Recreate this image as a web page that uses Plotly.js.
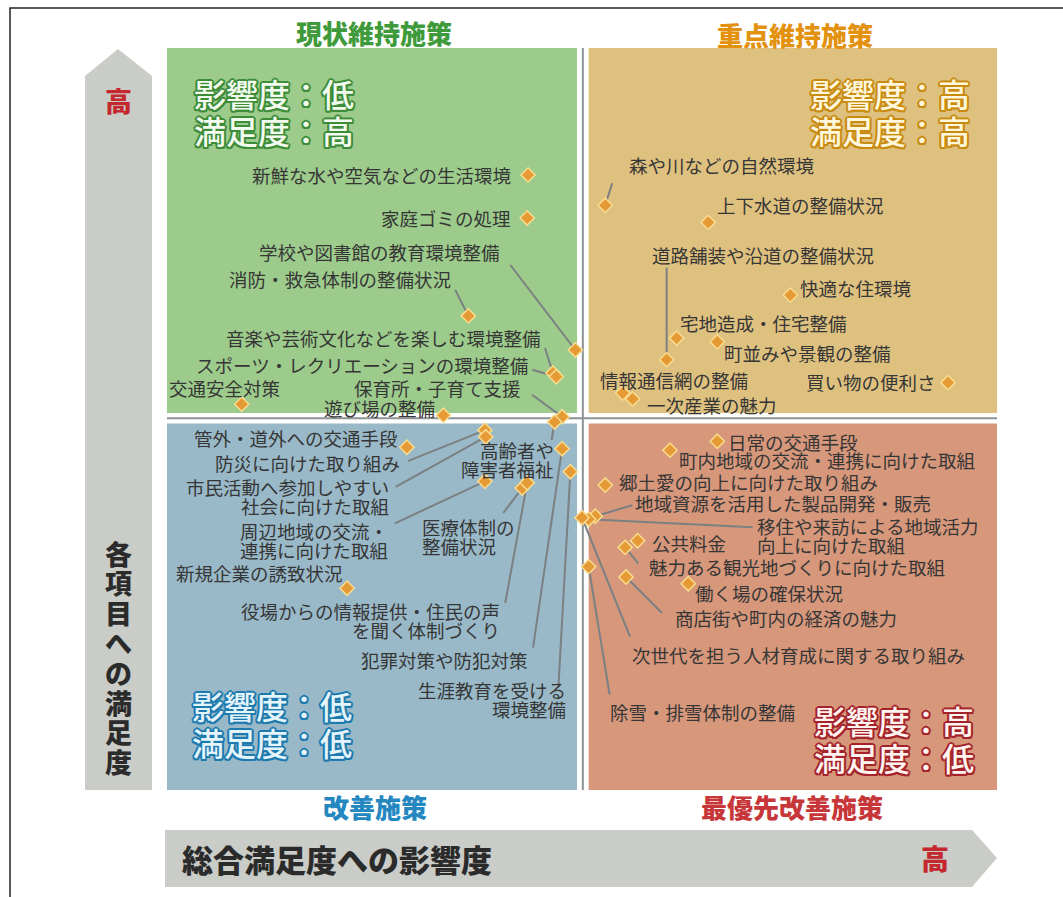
<!DOCTYPE html>
<html>
<head>
<meta charset="utf-8">
<script src="https://cdn.plot.ly/plotly-3.0.1.min.js"></script>
<style>
  body { margin: 0; background: #fff; }
  #myDiv { width: 1063px; height: 897px; }
</style>
</head>
<body>
<div id="myDiv"></div>
<script>
// items (施策項目) with impact on overall satisfaction (x) and satisfaction (y), 0-100 scale
var items = [
  '新鮮な水や空気などの生活環境', '家庭ゴミの処理', '学校や図書館の教育環境整備',
  '消防・救急体制の整備状況', '音楽や芸術文化などを楽しむ環境整備', 'スポーツ・レクリエーションの環境整備',
  '保育所・子育て支援', '交通安全対策', '遊び場の整備',
  '管外・道外への交通手段', '防災に向けた取り組み', '市民活動へ参加しやすい<br>社会に向けた取組',
  '周辺地域の交流・<br>連携に向けた取組', '新規企業の誘致状況', '医療体制の<br>整備状況',
  '役場からの情報提供・住民の声<br>を聞く体制づくり', '犯罪対策や防犯対策', '生涯教育を受ける<br>環境整備',
  '高齢者や<br>障害者福祉',
  '森や川などの自然環境', '上下水道の整備状況', '道路舗装や沿道の整備状況',
  '快適な住環境', '宅地造成・住宅整備', '町並みや景観の整備',
  '情報通信網の整備', '一次産業の魅力', '買い物の便利さ',
  '日常の交通手段', '町内地域の交流・連携に向けた取組', '郷土愛の向上に向けた取り組み',
  '地域資源を活用した製品開発・販売', '移住や来訪による地域活力<br>向上に向けた取組', '次世代を担う人材育成に関する取り組み',
  '公共料金', '魅力ある観光地づくりに向けた取組', '働く場の確保状況',
  '商店街や町内の経済の魅力', '除雪・排雪体制の整備'
];
var impact = [
  43.5, 43.4, 49.2, 36.3, 46.5, 46.9, 47.6, 9.0, 33.3,
  28.9, 38.3, 38.4, 38.3, 21.7, 42.8, 43.4, 47.6, 48.6, 46.7,
  52.8, 65.2, 60.2, 75.1, 61.4, 66.3, 54.9, 56.1, 94.1,
  66.3, 60.6, 52.8, 51.6, 50.8, 50.0, 56.7, 55.2, 62.8, 55.3, 50.8
];
var satisfaction = [
  82.9, 77.1, 59.3, 63.9, 56.2, 55.7, 50.3, 52.0, 50.5,
  46.2, 48.5, 47.6, 41.6, 27.2, 40.7, 41.4, 46.0, 42.9, 49.6,
  78.8, 76.5, 58.0, 66.7, 60.9, 60.4, 53.5, 52.7, 54.9,
  47.0, 45.8, 41.1, 36.9, 36.5, 36.7, 33.6, 32.7, 27.8, 28.7, 30.1
];

var quadrantNames = ['現状維持施策', '重点維持施策', '改善施策', '最優先改善施策'];
var impactLevel = ['低', '高', '低', '高'];
var satisfactionLevel = ['高', '高', '低', '低'];

// label placement (pixel offsets from each point), anchors and leader line ends
var labelDx = [-15, -14, -73, -15, -10, -26, -39, -75, -6,
  -7, -83, -95, -95, -2, -102, -25, -32, -2, 1,
  22, 7, -17, 8, 1, 5, -25, 12, -10,
  9, 7, 12, 38, 166, 48, 12, 22, 5, 47, 19];
var labelDy = [0, 0, -98, -37, -35, -12, -29, -16, -7,
  -9, 33, 60, 59, -15, 48, 138, 211, 228, 38,
  -40, -17, -105, -7, -15, 11, -13, 6, -1,
  1, 10, -3, -13, 16, 137, 2, 20, 9, 41, 145];
var labelAnchor = ['right', 'right', 'right', 'right', 'right', 'right', 'right', 'left', 'right',
  'right', 'right', 'right', 'right', 'right', 'left', 'right', 'right', 'right', 'right',
  'left', 'left', 'left', 'left', 'left', 'left', 'left', 'left', 'right',
  'left', 'left', 'left', 'left', 'left', 'left', 'left', 'left', 'left', 'left', 'left'];
var leaderEnd = [null, null, [-65, -85], [-13, -26], [-8, -25], [-24, -7], [-30, -22], null, null,
  null, [-77, 31], [-90, 50], [-90, 42], null, [-19, 25], [-22, 120], [-29, 199], [-12, 216], [-3, 18],
  [7, -22], null, [0, -92], null, null, null, null, null, null,
  null, null, null, [37, -11], [164, 8], [48, 119], null, [13, 16], null, [36, 36], [21, 128]];

var FONT = '"Noto Sans CJK JP", "Noto Sans", sans-serif';
var midX = 50.1, midY = 50.1, gap = 0.7;

// plot area in pixels: left 167, right 997, top 48, bottom 790
function fx(p) { return (p - 167) / 830; }
function fy(p) { return (790 - p) / 742; }

function outline(c) {
  return ['2px 0', '-2px 0', '0 2px', '0 -2px', '1.5px 1.5px', '-1.5px 1.5px', '1.5px -1.5px', '-1.5px -1.5px']
    .map(function (o) { return o + ' 0 ' + c; }).join(', ');
}

var shapes = [
  // quadrants
  {type: 'rect', xref: 'x', yref: 'y', x0: 0, x1: midX - gap, y0: midY + gap, y1: 100, fillcolor: '#9ccb8b', line: {width: 0}, layer: 'below'},
  {type: 'rect', xref: 'x', yref: 'y', x0: midX + gap, x1: 100, y0: midY + gap, y1: 100, fillcolor: '#dfc17f', line: {width: 0}, layer: 'below'},
  {type: 'rect', xref: 'x', yref: 'y', x0: 0, x1: midX - gap, y0: 0, y1: midY - gap, fillcolor: '#99b9c8', line: {width: 0}, layer: 'below'},
  {type: 'rect', xref: 'x', yref: 'y', x0: midX + gap, x1: 100, y0: 0, y1: midY - gap, fillcolor: '#d6977b', line: {width: 0}, layer: 'below'},
  // cross lines
  {type: 'line', xref: 'x', yref: 'y', x0: midX, x1: midX, y0: 0, y1: 100, line: {color: '#8d9295', width: 2}, layer: 'below'},
  {type: 'line', xref: 'x', yref: 'y', x0: 0, x1: 100, y0: midY, y1: midY, line: {color: '#8d9295', width: 2}, layer: 'below'},
  // axis arrows
  {type: 'path', xref: 'paper', yref: 'paper', layer: 'below', fillcolor: '#c9ccc7', line: {width: 0},
    path: 'M' + fx(85) + ',' + fy(790) + ' L' + fx(85) + ',' + fy(76) + ' L' + fx(118) + ',' + fy(49) +
      ' L' + fx(152) + ',' + fy(76) + ' L' + fx(152) + ',' + fy(790) + ' Z'},
  {type: 'path', xref: 'paper', yref: 'paper', layer: 'below', fillcolor: '#c9ccc7', line: {width: 0},
    path: 'M' + fx(165) + ',' + fy(830) + ' L' + fx(972) + ',' + fy(830) + ' L' + fx(997) + ',' + fy(858) +
      ' L' + fx(972) + ',' + fy(887) + ' L' + fx(165) + ',' + fy(887) + ' Z'},
  // page frame
  {type: 'rect', xref: 'paper', yref: 'paper', x0: fx(10), x1: fx(1080), y0: fy(8), y1: fy(910),
    line: {color: '#222', width: 1.5}, fillcolor: 'rgba(0,0,0,0)', layer: 'below'}
];

// leader lines anchored at each point, pixel offsets
for (var i = 0; i < items.length; i++) {
  if (!leaderEnd[i]) continue;
  shapes.push({
    type: 'line', xref: 'x', yref: 'y', xsizemode: 'pixel', ysizemode: 'pixel',
    xanchor: impact[i], yanchor: satisfaction[i],
    x0: 0, y0: 0, x1: leaderEnd[i][0], y1: -leaderEnd[i][1],
    line: {color: '#7b8083', width: 2}, layer: 'below'
  });
}

var annotations = [];
var lineGap = 19;
for (var i = 0; i < items.length; i++) {
  var lines = items[i].split('<br>');
  for (var k = 0; k < lines.length; k++) {
    var off = (k - (lines.length - 1) / 2) * lineGap;
    annotations.push({
      x: impact[i], y: satisfaction[i], xref: 'x', yref: 'y',
      text: lines[k], showarrow: false,
      xanchor: labelAnchor[i], yanchor: 'middle',
      xshift: labelDx[i], yshift: -(labelDy[i] + off),
      font: {family: FONT, size: 18.5, color: '#363636'}
    });
  }
}

// quadrant titles
var titleColors = ['#3f9a3b', '#e3920f', '#2487bf', '#c7373a'];
var titlePos = [[374, 33], [795, 34], [375, 806], [792, 806]];
quadrantNames.forEach(function (t, q) {
  annotations.push({
    xref: 'paper', yref: 'paper', x: fx(titlePos[q][0]), y: fy(titlePos[q][1]),
    text: t, showarrow: false, xanchor: 'center', yanchor: 'middle',
    font: {family: FONT, size: 26, weight: 900, color: titleColors[q]}
  });
});

// big level labels
var levelFill = ['#f3faee', '#fff7dc', '#e4f4fb', '#fff4f0'];
var levelLine = ['#3c8c39', '#c98a10', '#1d7aae', '#a4232a'];
var levelPos = [[192, 93, 'left'], [972, 93, 'right'], [190, 705, 'left'], [976, 720, 'right']];
quadrantNames.forEach(function (t, q) {
  var rows = ['影響度：' + impactLevel[q], '満足度：' + satisfactionLevel[q]];
  rows.forEach(function (r, k) {
    annotations.push({
      xref: 'paper', yref: 'paper', x: fx(levelPos[q][0]), y: fy(levelPos[q][1] + k * 37),
      text: r, showarrow: false, xanchor: levelPos[q][2], yanchor: 'middle',
      font: {family: FONT, size: 32, weight: 500, color: levelFill[q], shadow: outline(levelLine[q])}
    });
  });
});

// axis arrow texts
annotations.push({xref: 'paper', yref: 'paper', x: fx(118), y: fy(100), text: '高', showarrow: false,
  xanchor: 'center', yanchor: 'middle',
  font: {family: FONT, size: 27, weight: 900, color: '#c4272d'}});
annotations.push({xref: 'paper', yref: 'paper', x: fx(935), y: fy(858), text: '高', showarrow: false,
  xanchor: 'center', yanchor: 'middle',
  font: {family: FONT, size: 28, weight: 900, color: '#c4272d'}});
annotations.push({xref: 'paper', yref: 'paper', x: fx(180), y: fy(858), text: '総合満足度への影響度',
  showarrow: false, xanchor: 'left', yanchor: 'middle',
  font: {family: FONT, size: 31, weight: 900, color: '#2b2b2b'}});
var yTitle = '各項目への満足度'.split('');
yTitle.forEach(function (ch, k) {
  annotations.push({xref: 'paper', yref: 'paper', x: fx(118), y: fy(553 + k * 29.8), text: ch,
    showarrow: false, xanchor: 'center', yanchor: 'middle',
    font: {family: FONT, size: 27, weight: 900, color: '#2b2b2b'}});
});

var trace = {
  x: impact,
  y: satisfaction,
  text: items,
  mode: 'markers',
  type: 'scatter',
  hoverinfo: 'text',
  cliponaxis: false,
  marker: {symbol: 'diamond', size: 11, color: '#e59a36', line: {color: '#f8dc8e', width: 1.5}}
};

var layout = {
  width: 1063,
  height: 897,
  margin: {l: 167, r: 66, t: 48, b: 107},
  paper_bgcolor: '#ffffff',
  plot_bgcolor: 'rgba(0,0,0,0)',
  showlegend: false,
  xaxis: {range: [0, 100], visible: false, fixedrange: true},
  yaxis: {range: [0, 100], visible: false, fixedrange: true},
  shapes: shapes,
  annotations: annotations,
  font: {family: FONT}
};

Plotly.newPlot('myDiv', [trace], layout, {displayModeBar: false, staticPlot: true});
</script>
</body>
</html>
